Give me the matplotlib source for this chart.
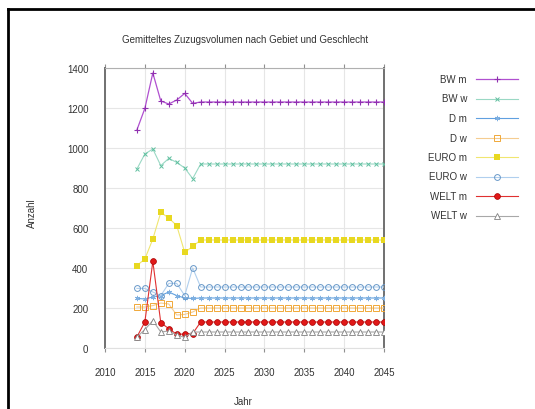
import matplotlib
matplotlib.use("Agg")
import matplotlib.pyplot as plt
from matplotlib.lines import Line2D

plt.rcParams['font.family'] = ['Liberation Sans', 'DejaVu Sans']

years = list(range(2014, 2046))

bw_m = [1090, 1198, 1375, 1235, 1220, 1240, 1273, 1223,
        1230, 1230, 1230, 1230, 1230, 1230, 1230, 1230, 1230, 1230, 1230, 1230,
        1230, 1230, 1230, 1230, 1230, 1230, 1230, 1230, 1230, 1230, 1230, 1230]
bw_w = [895, 970, 995, 912, 948, 928, 900, 847,
        920, 920, 920, 920, 920, 920, 920, 920, 920, 920, 920, 920,
        920, 920, 920, 920, 920, 920, 920, 920, 920, 920, 920, 920]
d_m = [248, 245, 255, 262, 280, 262, 250, 248,
       250, 250, 250, 250, 250, 250, 250, 250, 250, 250, 250, 250,
       250, 250, 250, 250, 250, 250, 250, 250, 250, 250, 250, 250]
d_w = [205, 205, 212, 225, 220, 165, 168, 180,
       200, 200, 200, 200, 200, 200, 200, 200, 200, 200, 200, 200,
       200, 200, 200, 200, 200, 200, 200, 200, 200, 200, 200, 200]
euro_m = [412, 445, 545, 678, 650, 612, 478, 508,
          540, 540, 540, 540, 540, 540, 540, 540, 540, 540, 540, 540,
          540, 540, 540, 540, 540, 540, 540, 540, 540, 540, 540, 540]
euro_w = [298, 298, 280, 262, 323, 323, 262, 400,
          305, 305, 305, 305, 305, 305, 305, 305, 305, 305, 305, 305,
          305, 305, 305, 305, 305, 305, 305, 305, 305, 305, 305, 305]
welt_m = [55, 130, 433, 126, 97, 68, 70, 72,
          130, 130, 130, 130, 130, 130, 130, 130, 130, 130, 130, 130,
          130, 130, 130, 130, 130, 130, 130, 130, 130, 130, 130, 130]
welt_w = [55, 92, 137, 80, 85, 65, 53, 80,
          80, 80, 80, 80, 80, 80, 80, 80, 80, 80, 80, 80,
          80, 80, 80, 80, 80, 80, 80, 80, 80, 80, 80, 80]

labels = ["BW m", "BW w", "D m", "D w", "EURO m", "EURO w", "WELT m", "WELT w"]
x_ticks = [2010, 2015, 2020, 2025, 2030, 2035, 2040, 2045]
y_ticks = [0, 200, 400, 600, 800, 1000, 1200, 1400]

styles = [
    dict(color='#b050d0', marker='+', ms=4.5, mew=0.8, lw=0.9, mfc='#b050d0', mec='#9030b0'),
    dict(color='#9ad8c4', marker='x', ms=3.5, mew=0.7, lw=0.8, mfc='none', mec='#60c0a0'),
    dict(color='#60a0e0', marker=(6, 2, 0), ms=3.8, mew=0.6, lw=0.8, mfc='none', mec='#80b0e0'),
    dict(color='#f5cc90', marker='s', ms=3.8, mew=0.7, lw=0.8, mfc='none', mec='#f0a838'),
    dict(color='#f0e670', marker='s', ms=4.2, mew=0.0, lw=0.8, mfc='#e8d820', mec='#e8d820'),
    dict(color='#b0cfee', marker='o', ms=4.2, mew=0.7, lw=0.8, mfc='none', mec='#6898c8'),
    dict(color='#e03030', marker='o', ms=4.2, mew=0.5, lw=0.8, mfc='#e01818', mec='#a80000'),
    dict(color='#a8a8a8', marker='^', ms=4.2, mew=0.6, lw=0.8, mfc='white', mec='#808080'),
]
series = [bw_m, bw_w, d_m, d_w, euro_m, euro_w, welt_m, welt_w]

W, H = 535, 410
fig = plt.figure(figsize=(W / 100, H / 100), dpi=100)
ax = fig.add_axes([105 / W, 1 - 349 / H, (384 - 105) / W, (349 - 69) / H])

for vals, st in zip(series, styles):
    ax.plot(years, vals, zorder=3, **st)

ax.set_xlim(2010, 2045)
ax.set_ylim(0, 1400)
ax.set_xticks(x_ticks)
ax.set_yticks(y_ticks)
ax.set_xticklabels([str(t) for t in x_ticks], fontsize=7, color='#333333')
ax.set_yticklabels([str(t) for t in y_ticks], fontsize=7, color='#333333')
ax.grid(True, color='#e6e6e6', lw=0.8)
ax.set_axisbelow(True)
ax.tick_params(axis='x', direction='out', length=3, width=0.8, color='#909090',
               pad=11, top=True)
ax.tick_params(axis='y', length=0, pad=12)
for side in ['left', 'right']:
    ax.spines[side].set_color('#707070')
    ax.spines[side].set_linewidth(1.4)
ax.spines['top'].set_color('#b0b0b0')
ax.spines['top'].set_linewidth(0.8)
ax.spines['bottom'].set_color('#e0e0e0')
ax.spines['bottom'].set_linewidth(0.8)

fig.text(245 / W, 1 - 40 / H, "Gemitteltes Zuzugsvolumen nach Gebiet und Geschlecht",
         ha='center', va='center', fontsize=7, color='#333333')
fig.text(32 / W, 1 - 213 / H, "Anzahl", rotation=90, ha='center', va='center',
         fontsize=7, color='#333333')
fig.text(243 / W, 1 - 402 / H, "Jahr", ha='center', va='center', fontsize=7,
         color='#333333')

# legend
row_y = [80, 99.5, 119, 138.5, 158, 177.5, 197, 216.5]
for lab, st, yy in zip(labels, styles, row_y):
    fy = 1 - yy / H
    fig.text(467 / W, fy, lab, ha='right', va='center', fontsize=7, color='#333333')
    fig.add_artist(Line2D([476 / W, 518 / W], [fy, fy], transform=fig.transFigure,
                          color=st['color'], lw=st['lw']))
    fig.add_artist(Line2D([497 / W], [fy], transform=fig.transFigure, ls='none',
                          marker=st['marker'], ms=st['ms'], mew=st['mew'],
                          mfc=st['mfc'], mec=st['mec']))

# frame border (top and left)
fig.add_artist(Line2D([8 / W, 1.0], [1 - 10 / H, 1 - 10 / H], transform=fig.transFigure,
                      color='black', lw=2))
fig.add_artist(Line2D([8 / W, 8 / W], [0, 1 - 10 / H], transform=fig.transFigure,
                      color='black', lw=2))

fig.savefig("out.png", dpi=100)
